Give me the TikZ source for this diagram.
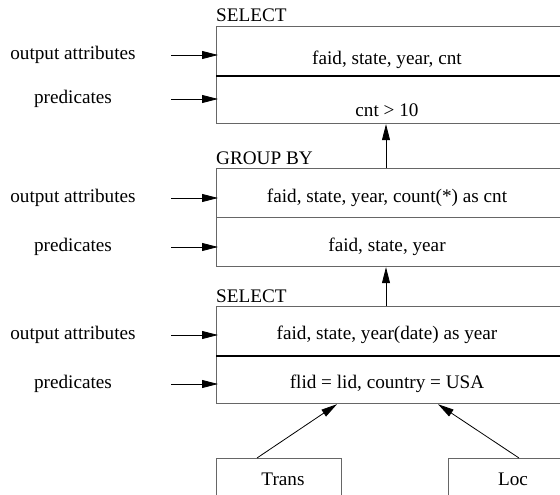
\documentclass[tikz,border=0pt]{standalone}
\usepackage{fontspec}
\setmainfont{Liberation Serif}
\newfontfamily\diagfont{Liberation Serif}
\usetikzlibrary{arrows.meta}
\begin{document}
\begin{tikzpicture}[x=1pt,y=-1pt,
  txt/.style={font=\diagfont\fontsize{19.2}{22}\selectfont, inner sep=0pt},
  head/.style={txt, anchor=base west},
  box/.style={draw=black!60, line width=1.2pt, rectangle, inner sep=0pt,
              anchor=north west, minimum width=345pt},
  rel/.style={draw=black!60, line width=1.2pt, rectangle, inner sep=0pt,
              anchor=north west, minimum height=50pt},
  sep/.style={line width=1.8pt},
  arr/.style={-{Triangle[length=16pt,width=8pt]}, line width=0.8pt}]
\useasboundingbox (0,0) rectangle (560,495);
\clip (0,0) rectangle (560,495);

% ---- top SELECT operator ----
\node[head] (h1) at (216,22) {SELECT};
\node[box, minimum height=49pt] (s1a) at (216,26) {};
\node[box, minimum height=48pt] (s1b) at (216,75) {};
\draw[sep] (s1a.south west) -- (s1a.south east);
\node[txt] (t1a) at (387,60) {faid, state, year, cnt};
\node[txt] (t1b) at (387,110) {cnt > 10};
\node[txt] (o1) at (73,55) {output attributes};
\node[txt] (p1) at (73,99) {predicates};

% ---- GROUP BY operator ----
\node[head] (h2) at (216,164) {GROUP BY};
\node[box, minimum height=49pt] (g1a) at (216,168) {};
\node[box, minimum height=49pt] (g1b) at (216,217) {};
\node[txt] (t2a) at (387,198) {faid, state, year, count(*) as cnt};
\node[txt] (t2b) at (387,247) {faid, state, year};
\node[txt] (o2) at (73,198) {output attributes};
\node[txt] (p2) at (73,247) {predicates};

% ---- bottom SELECT operator ----
\node[head] (h3) at (216,302) {SELECT};
\node[box, minimum height=49pt] (b1a) at (216,306) {};
\node[box, minimum height=48pt] (b1b) at (216,355) {};
\draw[sep] (b1a.south west) -- (b1a.south east);
\node[txt] (t3a) at (387,335) {faid, state, year(date) as year};
\node[txt] (t3b) at (387,384) {flid = lid, country = USA};
\node[txt] (o3) at (73,335) {output attributes};
\node[txt] (p3) at (73,384) {predicates};

% ---- base relations ----
\node[rel, minimum width=125pt] (tr) at (216,458) {};
\node[rel, minimum width=125pt] (lc) at (448,458) {};
\node[txt] (trl) at (283,479) {Trans};
\node[txt] (lcl) at (513,479) {Loc};

% ---- side arrows into the operator slots ----
\foreach \l/\b in {o1/s1a, p1/s1b, o2/g1a, p2/g1b, o3/b1a, p3/b1b}
  \draw[arr] ([xshift=-45pt]\l -| \b.west) -- ([xshift=2pt]\l -| \b.west);

% ---- data flow ----
\draw[arr] ([xshift=170pt]g1a.north west) -- ([xshift=170pt]s1b.south west);
\draw[arr] ([xshift=170pt]b1a.north west) -- ([xshift=170pt]g1b.south west);
\draw[arr] ([xshift=41pt]tr.north west) -- ([xshift=121pt]b1b.south west);
\draw[arr] ([xshift=71pt]lc.north west) -- ([xshift=222pt]b1b.south west);
\end{tikzpicture}
\end{document}
